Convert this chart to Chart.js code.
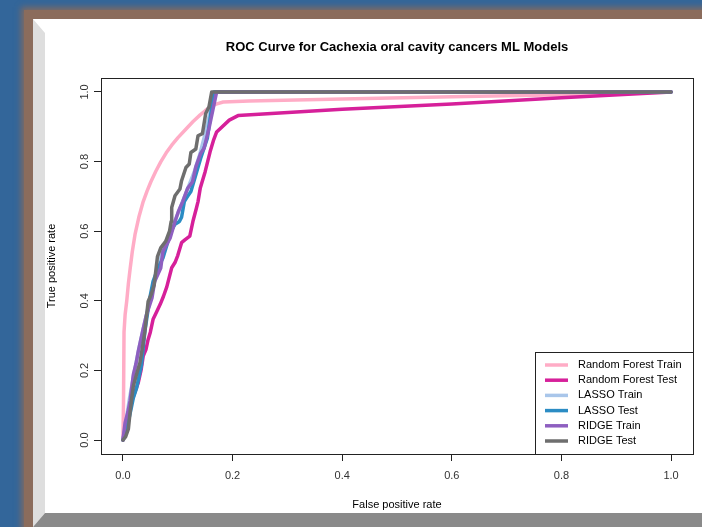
<!DOCTYPE html>
<html><head><meta charset="utf-8">
<script src="https://cdn.jsdelivr.net/npm/chart.js@4.4.1/dist/chart.umd.min.js"></script>
<style>
html,body{margin:0;padding:0;width:702px;height:527px;overflow:hidden;background:#33669a;}
#frame{position:absolute;left:24px;top:10px;width:690px;height:530px;background:#8b6c5c;box-shadow:0 0 6px 3px #7d6a64;}
#panel{position:absolute;left:33px;top:19px;width:669px;height:508px;background:#fff;}
#strip{position:absolute;left:33px;top:19px;width:12px;height:508px;background:#dedede;clip-path:polygon(0 0,100% 14px,100% 494px,0 508px);}
#band{position:absolute;left:33px;top:513px;width:669px;height:14px;background:#8a8a8a;clip-path:polygon(12px 0,100% 0,100% 100%,0 100%);}
canvas{position:absolute;left:0;top:0;}
</style></head>
<body>
<div id="frame"></div><div id="panel"></div><div id="strip"></div><div id="band"></div>
<canvas id="c" width="702" height="527"></canvas>
<script>
const seriesNames = ["Random Forest Train","Random Forest Test","LASSO Train","LASSO Test","RIDGE Train","RIDGE Test"];
const seriesColors = ["#ffacc6","#d6209a","#a9c6ea","#2b8cc4","#8e5fc0","#6e6e6e"];
const tickValues = [0,0.2,0.4,0.6,0.8,1.0];

const rfTrainFpr = [0,0.001,0.002,0.004,0.007,0.01,0.013,0.017,0.022,0.029,0.037,0.044,0.051,0.06,0.069,0.079,0.089,0.1,0.116,0.128,0.141,0.15,0.159,0.17,0.183,0.23,0.4,0.6,0.8,1];
const rfTrainTpr = [0,0.1,0.31,0.36,0.4,0.45,0.49,0.54,0.59,0.64,0.685,0.715,0.742,0.772,0.799,0.825,0.847,0.868,0.895,0.915,0.934,0.946,0.957,0.965,0.971,0.974,0.98,0.986,0.992,1];

const rfTestFpr = [0,0.004,0.013,0.02,0.028,0.033,0.037,0.042,0.046,0.05,0.055,0.062,0.068,0.074,0.08,0.089,0.095,0.1,0.107,0.113,0.122,0.128,0.134,0.137,0.141,0.15,0.159,0.165,0.171,0.194,0.21,0.4,0.6,0.8,1];
const rfTestTpr = [0,0.032,0.098,0.13,0.165,0.2,0.241,0.26,0.289,0.31,0.347,0.37,0.39,0.413,0.44,0.495,0.51,0.53,0.567,0.575,0.586,0.63,0.666,0.685,0.723,0.771,0.828,0.86,0.885,0.919,0.932,0.95,0.965,0.983,1];

const lassoTrainFpr = [0,0.005,0.012,0.02,0.03,0.04,0.05,0.06,0.07,0.08,0.09,0.1,0.11,0.12,0.13,0.14,0.15,0.16,0.168,1];
const lassoTrainTpr = [0,0.05,0.12,0.19,0.27,0.34,0.41,0.47,0.53,0.57,0.61,0.65,0.69,0.73,0.77,0.82,0.88,0.95,1,1];

const lassoTestFpr = [0,0.004,0.01,0.015,0.019,0.025,0.034,0.04,0.049,0.055,0.064,0.073,0.082,0.088,0.095,0.103,0.107,0.112,0.118,0.124,0.133,0.142,0.154,0.16,0.166,1];
const lassoTestTpr = [0,0.016,0.054,0.09,0.121,0.15,0.217,0.312,0.408,0.456,0.494,0.523,0.57,0.6,0.62,0.628,0.64,0.685,0.7,0.714,0.762,0.81,0.867,0.934,1,1];

const ridgeTrainFpr = [0,0.004,0.009,0.013,0.019,0.024,0.028,0.037,0.043,0.053,0.058,0.069,0.073,0.086,0.095,0.101,0.109,0.118,0.127,0.133,0.142,0.148,0.157,0.164,0.171,1];
const ridgeTrainTpr = [0,0.05,0.08,0.112,0.188,0.22,0.255,0.32,0.36,0.408,0.456,0.494,0.542,0.58,0.628,0.656,0.685,0.723,0.742,0.785,0.824,0.838,0.895,0.948,1,1];

const ridgeTestFpr = [0,0.005,0.01,0.013,0.016,0.019,0.025,0.031,0.036,0.04,0.046,0.052,0.057,0.063,0.069,0.078,0.085,0.088,0.089,0.095,0.104,0.107,0.115,0.121,0.124,0.133,0.137,0.145,0.151,0.157,0.162,1];
const ridgeTestTpr = [0,0.01,0.032,0.079,0.12,0.155,0.19,0.222,0.27,0.312,0.398,0.42,0.446,0.527,0.552,0.571,0.6,0.628,0.668,0.702,0.721,0.745,0.783,0.793,0.826,0.836,0.874,0.88,0.938,0.957,1,1];

const fprs = [rfTrainFpr, rfTestFpr, lassoTrainFpr, lassoTestFpr, ridgeTrainFpr, ridgeTestFpr];
const tprs = [rfTrainTpr, rfTestTpr, lassoTrainTpr, lassoTestTpr, ridgeTrainTpr, ridgeTestTpr];

const FONT = "'Liberation Sans', Arial, Helvetica, sans-serif";

const datasets = seriesNames.map((name, i) => ({
  label: name,
  data: fprs[i].map((x, k) => ({x: x, y: tprs[i][k]})),
  borderColor: seriesColors[i],
  backgroundColor: seriesColors[i],
  borderWidth: 3.5,
  borderCapStyle: 'round',
  borderJoinStyle: 'round',
  pointRadius: 0,
  showLine: true,
  fill: false,
  tension: 0,
  order: seriesNames.length - i
}));

const boxPlugin = {
  id: 'rbox',
  afterDraw(chart) {
    const {ctx, chartArea: a} = chart;
    ctx.save();
    ctx.strokeStyle = '#222';
    ctx.lineWidth = 1;
    ctx.strokeRect(Math.round(a.left) + 0.5, Math.round(a.top) + 0.5, Math.round(a.right - a.left), Math.round(a.bottom - a.top));
    // legend
    const w = 158, h = 102;
    const lx = Math.round(a.right) - w, ly = Math.round(a.bottom) - h;
    ctx.fillStyle = '#fff';
    ctx.fillRect(lx + 0.5, ly + 0.5, w, h);
    ctx.strokeRect(lx + 0.5, ly + 0.5, w, h);
    ctx.font = '11px ' + FONT;
    ctx.textBaseline = 'middle';
    ctx.textAlign = 'left';
    chart.data.datasets.forEach((ds, i) => {
      const y = ly + 13 + i * 15.2;
      ctx.strokeStyle = ds.borderColor;
      ctx.lineWidth = 3.5;
      ctx.lineCap = 'butt';
      ctx.beginPath();
      ctx.moveTo(lx + 10, y);
      ctx.lineTo(lx + 33, y);
      ctx.stroke();
      ctx.fillStyle = '#000';
      ctx.fillText(ds.label, lx + 43, y);
    });
    ctx.restore();
  }
};

const axisCommon = {
  type: 'linear',
  min: -0.04,
  max: 1.04,
  afterBuildTicks: (s) => { s.ticks = tickValues.map(v => ({value: v})); },
  grid: {display: true, drawOnChartArea: false, drawTicks: true, tickLength: 7, color: '#222', lineWidth: 1},
  border: {display: true, color: '#222', width: 1}
};

new Chart(document.getElementById('c'), {
  type: 'scatter',
  data: {datasets: datasets},
  plugins: [boxPlugin],
  options: {
    responsive: false,
    animation: false,
    devicePixelRatio: 1,
    layout: {padding: {left: 38, right: 9, top: 0, bottom: 10}},
    plugins: {
      legend: {display: false},
      tooltip: {enabled: false},
      title: {
        display: true,
        text: 'ROC Curve for Cachexia oral cavity cancers ML Models',
        fullSize: false,
        color: '#000',
        font: {family: FONT, size: 13, weight: 'bold'},
        padding: {top: 40, bottom: 22.4}
      }
    },
    scales: {
      x: Object.assign({}, axisCommon, {
        position: 'bottom',
        afterFit: (s) => { s.height = 63; },
        ticks: {color: '#333', font: {family: FONT, size: 11}, padding: 8, maxRotation: 0, minRotation: 0,
          callback: (v) => Number(v).toFixed(1)},
        title: {display: true, text: 'False positive rate', color: '#000', font: {family: FONT, size: 11}, padding: {top: 0, bottom: 5}}
      }),
      y: Object.assign({}, axisCommon, {
        position: 'left',
        afterFit: (s) => { s.width = 63; },
        ticks: {color: '#333', font: {family: FONT, size: 11}, padding: 1, minRotation: 90, maxRotation: 90, crossAlign: 'center',
          callback: (v) => Number(v).toFixed(1)},
        title: {display: true, text: 'True positive rate', color: '#000', font: {family: FONT, size: 11}, padding: {top: 7, bottom: 0}}
      })
    }
  }
});
</script>
</body></html>
